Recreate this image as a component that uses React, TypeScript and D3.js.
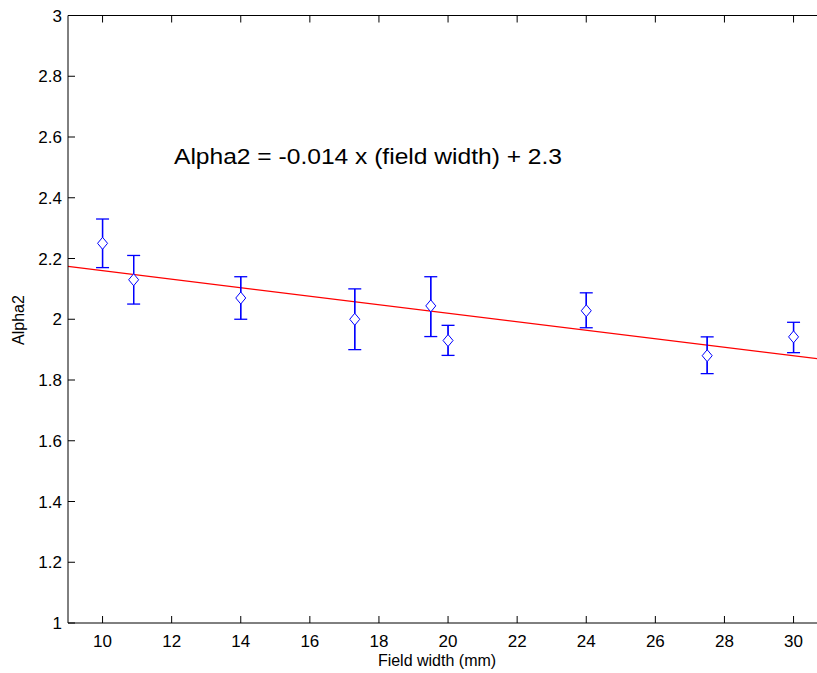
import { useMemo } from "react";
import * as d3 from "d3";

// field width (mm)
const fieldWidth = [10, 10.9, 14, 17.3, 19.5, 20, 24, 27.5, 30];
// measured Alpha2
const alpha2 = [2.25, 2.13, 2.07, 2.0, 2.044, 1.93, 2.028, 1.88, 1.942];
const errLow = [2.17, 2.05, 2.0, 1.9, 1.943, 1.881, 1.972, 1.821, 1.89];
const errHigh = [2.33, 2.21, 2.14, 2.1, 2.14, 1.98, 2.087, 1.942, 1.99];

const xTicks = [10, 12, 14, 16, 18, 20, 22, 24, 26, 28, 30];
const yTicks = [1, 1.2, 1.4, 1.6, 1.8, 2, 2.2, 2.4, 2.6, 2.8, 3];

const fitSlope = -0.014;
const fitIntercept = 2.3;
const fitLabel = "Alpha2 = -0.014 x (field width) + 2.3";

const W = 817;
const H = 673;
const margin = { left: 68, top: 15.5, bottom: 50 };

export default function App() {
  const plotBottom = H - margin.bottom;
  const x = useMemo(() => d3.scaleLinear().domain([9, 31]).range([margin.left, margin.left + 22 * 34.55]), []);
  const y = useMemo(() => d3.scaleLinear().domain([1, 3]).range([plotBottom, margin.top]), []);
  const plotRight = x(31);
  const font = "'Liberation Sans Narrow', 'Liberation Sans', Arial, sans-serif";
  const tickLen = 7;

  const fitLine = d3.line<number>().x((d) => x(d)).y((d) => y(fitSlope * d + fitIntercept));

  return (
    <div style={{ position: "fixed", left: 0, top: 0 }}>
      <svg width={W} height={H} style={{ display: "block", background: "#fff" }}>
        <rect x={0} y={0} width={W} height={H} fill="#fff" />
        {/* fit line */}
        <path d={fitLine([9, 31]) || ""} stroke="#ff0000" strokeWidth={1.2} fill="none" />
        {/* error bars and markers */}
        {fieldWidth.map((fw, i) => {
          const cx = x(fw);
          const cy = y(alpha2[i]);
          return (
            <g key={i} stroke="#0000ff" fill="none" strokeWidth={1.3}>
              <line x1={cx} x2={cx} y1={y(errHigh[i])} y2={y(errLow[i])} />
              <line x1={cx - 6.5} x2={cx + 6.5} y1={y(errHigh[i])} y2={y(errHigh[i])} />
              <line x1={cx - 6.5} x2={cx + 6.5} y1={y(errLow[i])} y2={y(errLow[i])} />
              <path
                d={`M${cx},${cy - 6}L${cx + 5},${cy}L${cx},${cy + 6}L${cx - 5},${cy}Z`}
                fill="#fff"
                strokeWidth={1}
              />
              <line x1={cx} x2={cx} y1={y(errHigh[i])} y2={cy - 6} />
              <line x1={cx} x2={cx} y1={cy + 6} y2={y(errLow[i])} />
            </g>
          );
        })}
        {/* axes box */}
        <g stroke="#000" strokeWidth={1} fill="none">
          <line x1={margin.left} x2={plotRight} y1={plotBottom} y2={plotBottom} />
          <line x1={margin.left} x2={plotRight} y1={margin.top} y2={margin.top} />
          <line x1={margin.left} x2={margin.left} y1={margin.top} y2={plotBottom} />
          {xTicks.map((t) => (
            <g key={"x" + t}>
              <line x1={x(t)} x2={x(t)} y1={plotBottom} y2={plotBottom - tickLen} />
              <line x1={x(t)} x2={x(t)} y1={margin.top} y2={margin.top + tickLen} />
            </g>
          ))}
          {yTicks.map((t) => (
            <line key={"y" + t} x1={margin.left} x2={margin.left + tickLen} y1={y(t)} y2={y(t)} />
          ))}
        </g>
        <g fontFamily={font} fontSize={17} fill="#000">
          {xTicks.map((t) => (
            <text key={"xl" + t} x={x(t)} y={plotBottom + 24} textAnchor="middle">
              {t}
            </text>
          ))}
          {yTicks.map((t) => (
            <text key={"yl" + t} x={margin.left - 6} y={y(t) + 6} textAnchor="end">
              {t}
            </text>
          ))}
          <text x={437} y={666} textAnchor="middle" fontSize={16}>
            Field width (mm)
          </text>
          <text transform={`translate(24,${320}) rotate(-90)`} textAnchor="middle" fontSize={16}>
            Alpha2
          </text>
        </g>
        <text
          x={174}
          y={164}
          fontFamily="'Liberation Sans', Arial, sans-serif"
          fontSize={21.5}
          textLength={388}
          lengthAdjust="spacingAndGlyphs"
          fill="#000"
        >
          {fitLabel}
        </text>
      </svg>
    </div>
  );
}
